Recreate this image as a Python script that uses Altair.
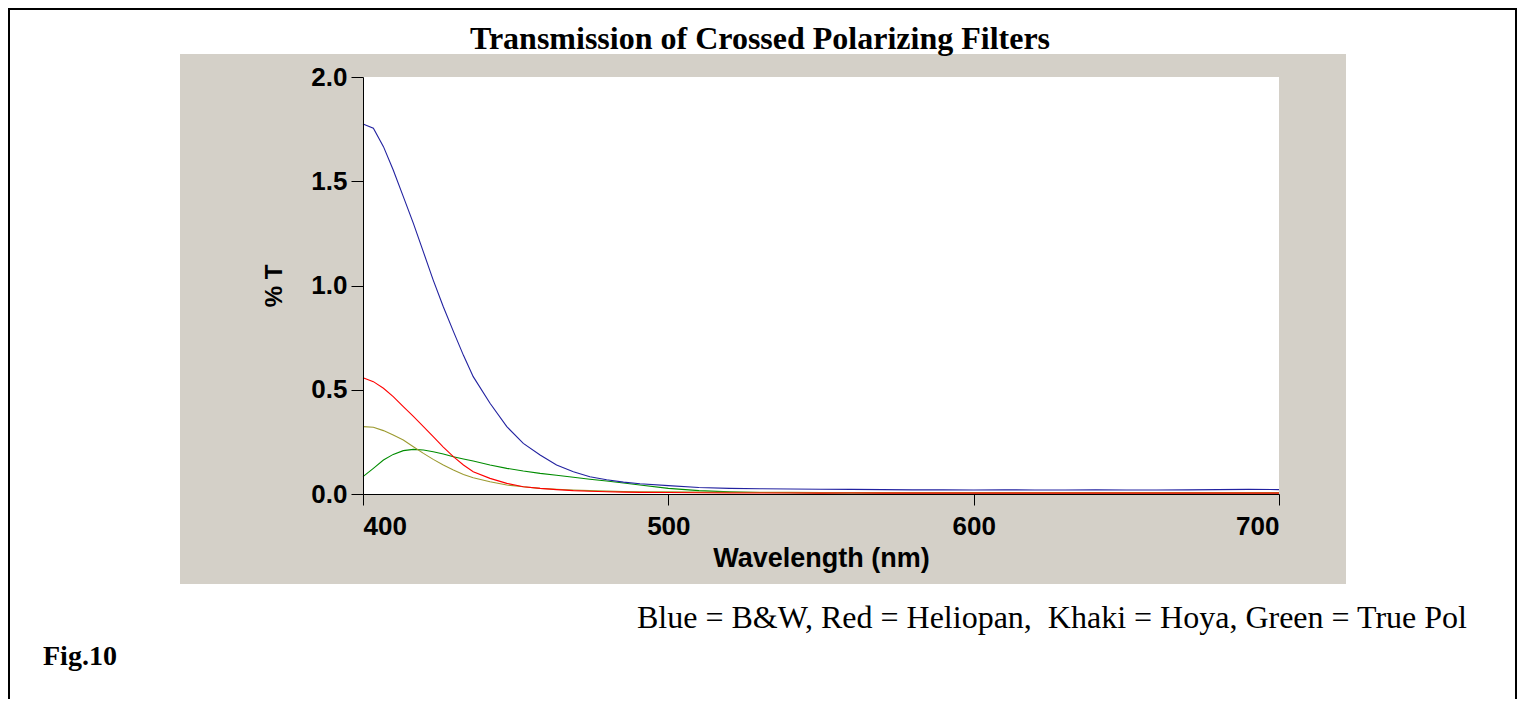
import altair as alt
import pandas as pd

# ---- data ----
wavelength = [400, 403.4, 406.7, 409.9, 413.2, 416.5, 419.8, 423.0, 426.3, 429.6, 432.9,
              436.1, 441.6, 447.1, 452.5, 458.0, 463.4, 468.9, 474.3, 479.8, 485.3, 490.7,
              500, 510, 520, 530, 540, 550, 560, 570, 580, 590, 600, 610, 620, 630, 640,
              650, 660, 670, 680, 690, 700]

blue_bw = [1.775, 1.754, 1.666, 1.554, 1.426, 1.298, 1.160, 1.026, 0.898, 0.780, 0.665,
           0.563, 0.435, 0.323, 0.243, 0.187, 0.139, 0.107, 0.083, 0.068, 0.057, 0.049,
           0.040, 0.031, 0.027, 0.025, 0.024, 0.023, 0.022, 0.021, 0.020, 0.020, 0.019,
           0.020, 0.019, 0.019, 0.020, 0.019, 0.019, 0.020, 0.021, 0.022, 0.021]

red_heliopan = [0.558, 0.539, 0.507, 0.467, 0.419, 0.372, 0.323, 0.275, 0.225, 0.179, 0.139,
                0.107, 0.075, 0.051, 0.035, 0.027, 0.021, 0.016, 0.013, 0.011, 0.009, 0.008,
                0.007, 0.006, 0.005, 0.005, 0.005, 0.004, 0.005, 0.004, 0.004, 0.004, 0.004,
                0.004, 0.004, 0.004, 0.004, 0.004, 0.004, 0.004, 0.004, 0.004, 0.004]

khaki_hoya = [0.323, 0.320, 0.304, 0.283, 0.259, 0.227, 0.195, 0.166, 0.139, 0.115, 0.094,
              0.078, 0.059, 0.043, 0.035, 0.027, 0.023, 0.019, 0.016, 0.014, 0.012, 0.011,
              0.010, 0.009, 0.008, 0.008, 0.008, 0.007, 0.007, 0.007, 0.007, 0.007, 0.007,
              0.007, 0.007, 0.007, 0.007, 0.007, 0.007, 0.007, 0.007, 0.007, 0.007]

green_truepol = [0.083, 0.123, 0.163, 0.190, 0.208, 0.214, 0.211, 0.203, 0.192, 0.179, 0.168,
                 0.158, 0.139, 0.123, 0.110, 0.099, 0.090, 0.080, 0.071, 0.062, 0.053, 0.043,
                 0.027, 0.016, 0.010, 0.007, 0.006, 0.005, 0.005, 0.005, 0.005, 0.005, 0.005,
                 0.005, 0.005, 0.005, 0.005, 0.005, 0.005, 0.005, 0.005, 0.005, 0.005]

series_names = ["Green", "Khaki", "Red", "Blue"]
series_values = [green_truepol, khaki_hoya, red_heliopan, blue_bw]
series_colors = ["#008c00", "#9c9a30", "#ff0000", "#2222a0"]

x_ticks = [400, 500, 600, 700]
y_ticks = [0.0, 0.5, 1.0, 1.5, 2.0]

title_text = "Transmission of Crossed Polarizing Filters"
caption_text = "Blue = B&W, Red = Heliopan,\u00a0 Khaki = Hoya, Green = True Pol"
fig_text = "Fig.10"

# ---- build table ----
rows = []
for name, vals in zip(series_names, series_values):
    for w, v in zip(wavelength, vals):
        rows.append({"wavelength": w, "T": v, "series": name})
df = pd.DataFrame(rows)

W, H = 916, 417
GRAY = "#d4d0c8"
dummy = pd.DataFrame({"a": [0]})

frame = alt.Chart(dummy).mark_rect(filled=False, stroke="black", strokeWidth=2).encode(
    x=alt.value(-354), x2=alt.value(1153), y=alt.value(-68), y2=alt.value(700)
)
panel = alt.Chart(dummy).mark_rect(color=GRAY).encode(
    x=alt.value(-183), x2=alt.value(983), y=alt.value(-23), y2=alt.value(507)
)
plotbg = alt.Chart(dummy).mark_rect(color="white").encode(
    x=alt.value(0), x2=alt.value(W), y=alt.value(0), y2=alt.value(H)
)

lines = alt.Chart(df).mark_line(strokeWidth=1.1).encode(
    x=alt.X("wavelength:Q",
            scale=alt.Scale(domain=[400, 700], nice=False, zero=False),
            axis=alt.Axis(values=x_ticks, format="d", title="Wavelength (nm)",
                          grid=False, zindex=1, tickSize=11, labelPadding=8,
                          titlePadding=6, titleFontSize=27, labelFontSize=26)),
    y=alt.Y("T:Q",
            scale=alt.Scale(domain=[0, 2], nice=False),
            axis=alt.Axis(values=y_ticks, format=".1f", title="% T",
                          grid=False, zindex=1, tickSize=12, labelPadding=4,
                          titlePadding=24, titleFontSize=24, labelFontSize=26)),
    color=alt.Color("series:N", scale=alt.Scale(domain=series_names, range=series_colors),
                    legend=None),
    order=alt.Order("wavelength:Q"),
)

title = alt.Chart(dummy).mark_text(font="Liberation Serif", fontWeight="bold", fontSize=32,
                                   align="center", baseline="alphabetic", color="black").encode(
    x=alt.value(397), y=alt.value(-28), text=alt.value(title_text)
)
caption = alt.Chart(dummy).mark_text(font="Liberation Serif", fontSize=32,
                                     align="right", baseline="alphabetic", color="black").encode(
    x=alt.value(1104), y=alt.value(551), text=alt.value(caption_text)
)
fig = alt.Chart(dummy).mark_text(font="Liberation Serif", fontWeight="bold", fontSize=28,
                                 align="left", baseline="alphabetic", color="black").encode(
    x=alt.value(-320), y=alt.value(588), text=alt.value(fig_text)
)

chart = alt.layer(frame, panel, plotbg, lines, title, caption, fig).properties(
    width=W, height=H,
    autosize=alt.AutoSizeParams(type="none"),
    padding={"left": 355, "top": 69, "right": 238, "bottom": 205},
    background="white",
).configure_view(stroke=None).configure_axis(
    domainColor="black", domainWidth=1, tickColor="black", tickWidth=1,
    labelColor="black", titleColor="black",
    labelFont="Liberation Sans", titleFont="Liberation Sans",
    labelFontWeight="bold", titleFontWeight="bold",
)

chart.save("out.html", embed_options={"renderer": "svg", "actions": False})
